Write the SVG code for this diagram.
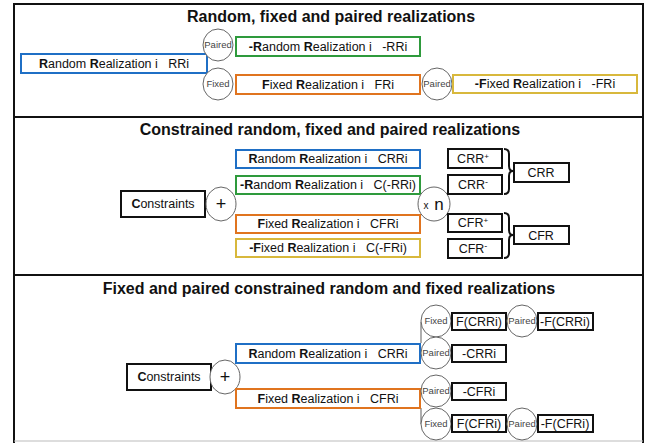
<svg xmlns="http://www.w3.org/2000/svg" width="654" height="443" viewBox="0 0 654 443">
<style>
text{font-family:"Liberation Sans",Arial,sans-serif;fill:#111;white-space:pre}
.title{font-size:16px;font-weight:bold;text-anchor:middle}
.lbl{font-size:12.5px;text-anchor:middle}
.b{font-weight:bold}
.circ{fill:#fff;stroke:#666;stroke-width:1}
.ctxt{font-size:9.5px;text-anchor:middle;fill:#444}
.blue{fill:#fff;stroke:#1f6fc5;stroke-width:2}
.green{fill:#fff;stroke:#2e9a3c;stroke-width:2}
.orange{fill:#fff;stroke:#e0741f;stroke-width:2}
.yellow{fill:#fff;stroke:#d8b83c;stroke-width:2}
.blk{fill:#fff;stroke:#111;stroke-width:2}
.frame{fill:none;stroke:#111;stroke-width:2}
.conn{fill:none;stroke:#777;stroke-width:1.2}
.brace{fill:none;stroke:#111;stroke-width:2}
</style>
<rect x="0" y="0" width="654" height="443" fill="#fff"/>
<g id="frame">
<line class="frame" x1="14" y1="4" x2="643" y2="4"/>
<line class="frame" x1="14" y1="3" x2="14" y2="443"/>
<line class="frame" x1="643" y1="3" x2="643" y2="443"/>
<line class="frame" x1="14" y1="117" x2="643" y2="117"/>
<line class="frame" x1="14" y1="275" x2="643" y2="275"/>
<line x1="14" y1="441" x2="643" y2="441" stroke="#bbb" stroke-width="1"/>
</g>
<g id="titles">
<text class="title" x="331" y="22">Random, fixed and paired realizations</text>
<text class="title" x="330" y="135">Constrained random, fixed and paired realizations</text>
<text class="title" x="329" y="294">Fixed and paired constrained random and fixed realizations</text>
</g>
<g id="connectors">
<path class="conn" d="M421,322 V343"/>
<path class="conn" d="M421,408 V424"/>
</g>
<!-- Section 1 -->
<g id="s1-rri"><rect class="blue" x="21" y="54" width="186" height="19"/><text class="lbl" x="114" y="68"><tspan class="b">R</tspan>andom <tspan class="b">R</tspan>ealization i   RRi</text></g>
<g id="s1-paired1"><ellipse class="circ" cx="218" cy="45" rx="15" ry="16"/><text class="ctxt" x="218" y="48">Paired</text></g>
<g id="s1-nrri"><rect class="green" x="236" y="37" width="184" height="19"/><text class="lbl" x="328" y="51"><tspan class="b">-R</tspan>andom <tspan class="b">R</tspan>ealization i   -RRi</text></g>
<g id="s1-fixed"><ellipse class="circ" cx="218" cy="84" rx="15" ry="16"/><text class="ctxt" x="218" y="87">Fixed</text></g>
<g id="s1-fri"><rect class="orange" x="236" y="75" width="184" height="19"/><text class="lbl" x="328" y="89"><tspan class="b">F</tspan>ixed <tspan class="b">R</tspan>ealization i   FRi</text></g>
<g id="s1-paired2"><ellipse class="circ" cx="437" cy="84" rx="15" ry="16"/><text class="ctxt" x="437" y="87">Paired</text></g>
<g id="s1-nfri"><rect class="yellow" x="453" y="75" width="184" height="18"/><text class="lbl" x="545" y="88"><tspan class="b">-F</tspan>ixed <tspan class="b">R</tspan>ealization i   -FRi</text></g>
<!-- Section 2 -->
<g id="s2-constraints"><rect class="blk" x="121" y="191" width="84" height="26"/><text class="lbl" x="163" y="208"><tspan class="b">C</tspan>onstraints</text></g>
<g id="s2-plus"><ellipse class="circ" cx="221" cy="204" rx="15" ry="17"/><text x="221" y="210" style="font-size:18px;text-anchor:middle">+</text></g>
<g id="s2-crri"><rect class="blue" x="236" y="150" width="184" height="18"/><text class="lbl" x="328" y="163"><tspan class="b">R</tspan>andom <tspan class="b">R</tspan>ealization i   CRRi</text></g>
<g id="s2-cnrri"><rect class="green" x="236" y="176" width="184" height="18"/><text class="lbl" x="328" y="189"><tspan class="b">-R</tspan>andom <tspan class="b">R</tspan>ealization i   C(-RRi)</text></g>
<g id="s2-cfri"><rect class="orange" x="236" y="215" width="184" height="18"/><text class="lbl" x="328" y="228"><tspan class="b">F</tspan>ixed <tspan class="b">R</tspan>ealization i   CFRi</text></g>
<g id="s2-cnfri"><rect class="yellow" x="236" y="239" width="184" height="18"/><text class="lbl" x="328" y="252"><tspan class="b">-F</tspan>ixed <tspan class="b">R</tspan>ealization i   C(-FRi)</text></g>
<g id="s2-xn"><ellipse class="circ" cx="434" cy="204" rx="16" ry="17"/><text x="426" y="209" style="font-size:10px;text-anchor:middle">x</text><text x="439" y="210" style="font-size:17px;text-anchor:middle">n</text></g>
<g id="s2-crrp"><rect class="blk" x="448" y="149" width="54" height="19"/><text class="lbl" x="473" y="163">CRR<tspan style="font-size:8px" dy="-4">+</tspan></text></g>
<g id="s2-crrm"><rect class="blk" x="448" y="175" width="54" height="19"/><text class="lbl" x="473" y="189">CRR<tspan style="font-size:9px" dy="-4">-</tspan></text></g>
<path class="brace" d="M504,149 q5,0 5,5 v12 q0,5 4,5 q-4,0 -4,5 v13 q0,5 -5,5"/>
<g id="s2-crr"><rect class="blk" x="514" y="163" width="55" height="19"/><text class="lbl" x="541" y="177">CRR</text></g>
<g id="s2-cfrp"><rect class="blk" x="448" y="214" width="54" height="18"/><text class="lbl" x="473" y="227">CFR<tspan style="font-size:8px" dy="-4">+</tspan></text></g>
<g id="s2-cfrm"><rect class="blk" x="448" y="239" width="54" height="19"/><text class="lbl" x="473" y="253">CFR<tspan style="font-size:9px" dy="-4">-</tspan></text></g>
<path class="brace" d="M504,213 q5,0 5,5 v12 q0,5 4,5 q-4,0 -4,5 v13 q0,5 -5,5"/>
<g id="s2-cfr"><rect class="blk" x="514" y="226" width="55" height="18"/><text class="lbl" x="541" y="240">CFR</text></g>
<!-- Section 3 -->
<g id="s3-constraints"><rect class="blk" x="127" y="364" width="84" height="26"/><text class="lbl" x="169" y="381"><tspan class="b">C</tspan>onstraints</text></g>
<g id="s3-plus"><ellipse class="circ" cx="225" cy="377" rx="15" ry="17"/><text x="225" y="383" style="font-size:18px;text-anchor:middle">+</text></g>
<g id="s3-crri"><rect class="blue" x="236" y="344" width="184" height="19"/><text class="lbl" x="328" y="358"><tspan class="b">R</tspan>andom <tspan class="b">R</tspan>ealization i   CRRi</text></g>
<g id="s3-cfri"><rect class="orange" x="236" y="389" width="184" height="19"/><text class="lbl" x="328" y="403"><tspan class="b">F</tspan>ixed <tspan class="b">R</tspan>ealization i   CFRi</text></g>
<g id="s3-fixed1"><ellipse class="circ" cx="436" cy="321" rx="15" ry="16"/><text class="ctxt" x="436" y="324">Fixed</text></g>
<g id="s3-fcrri"><rect class="blk" x="452" y="313" width="54" height="17"/><text class="lbl" x="479" y="326">F(CRRi)</text></g>
<g id="s3-paired1"><ellipse class="circ" cx="522" cy="321" rx="15" ry="16"/><text class="ctxt" x="522" y="324">Paired</text></g>
<g id="s3-nfcrri"><rect class="blk" x="538" y="313" width="55" height="17"/><text class="lbl" x="565" y="326">-F(CRRi)</text></g>
<g id="s3-paired2"><ellipse class="circ" cx="436" cy="353" rx="15" ry="16"/><text class="ctxt" x="436" y="356">Paired</text></g>
<g id="s3-ncrri"><rect class="blk" x="452" y="345" width="54" height="17"/><text class="lbl" x="479" y="358">-CRRi</text></g>
<g id="s3-paired3"><ellipse class="circ" cx="436" cy="391" rx="15" ry="16"/><text class="ctxt" x="436" y="394">Paired</text></g>
<g id="s3-ncfri"><rect class="blk" x="452" y="383" width="54" height="17"/><text class="lbl" x="479" y="396">-CFRi</text></g>
<g id="s3-fixed2"><ellipse class="circ" cx="436" cy="424" rx="15" ry="16"/><text class="ctxt" x="436" y="427">Fixed</text></g>
<g id="s3-fcfri"><rect class="blk" x="452" y="415" width="54" height="17"/><text class="lbl" x="479" y="428">F(CFRi)</text></g>
<g id="s3-paired4"><ellipse class="circ" cx="522" cy="424" rx="15" ry="16"/><text class="ctxt" x="522" y="427">Paired</text></g>
<g id="s3-nfcfri"><rect class="blk" x="538" y="415" width="55" height="17"/><text class="lbl" x="565" y="428">-F(CFRi)</text></g>
</svg>
